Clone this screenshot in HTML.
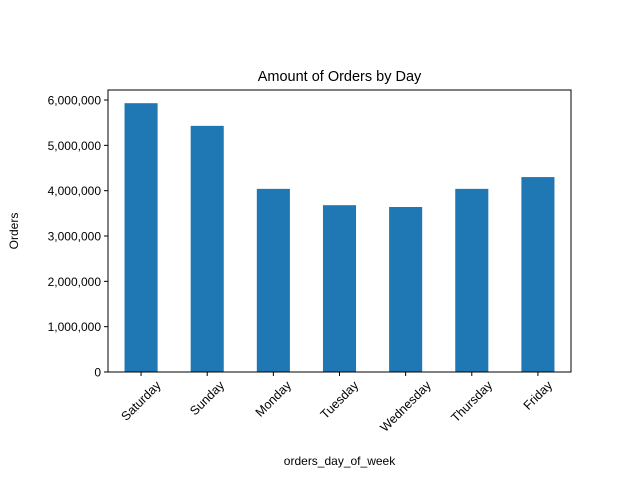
<!DOCTYPE html>
<html><head><meta charset="utf-8"><style>body{margin:0;background:#fff}svg{display:block;font-family:"Liberation Sans","DejaVu Sans",sans-serif}</style></head>
<body>
<svg id="chart" width="640" height="480">
<text x="339.5" y="81" font-size="14.5" text-anchor="middle">Amount of Orders by Day</text>
<text x="339.5" y="465" font-size="12" text-anchor="middle">orders_day_of_week</text>
<text transform="translate(18,231) rotate(-90)" font-size="12" text-anchor="middle">Orders</text>
<g id="bars"></g><g id="axes"></g>
</svg>
<script>
const categories=["Saturday","Sunday","Monday","Tuesday","Wednesday","Thursday","Friday"];
const orders=[5930000,5430000,4040000,3680000,3640000,4040000,4300000];
const yTicks=[0,1000000,2000000,3000000,4000000,5000000,6000000];
const L=108,R=571,T=90,B=372;
const y=v=>B-v/1000000*45.33;
const step=(R-L)/categories.length;
const x=i=>L+step*(i+0.5);
const NS="http://www.w3.org/2000/svg";
const bars=document.getElementById('bars'),axes=document.getElementById('axes');
function mk(tag,attrs,parent,text){const e=document.createElementNS(NS,tag);for(const k in attrs)e.setAttribute(k,attrs[k]);if(text!==undefined)e.textContent=text;parent.appendChild(e);return e;}
orders.forEach((v,i)=>{
 const r=mk('rect',{x:x(i)-step*0.25,y:y(v),width:step*0.5,height:B-y(v),fill:'#1f77b4'},bars);
 
 
 mk('line',{x1:x(i),x2:x(i),y1:B,y2:B+4,stroke:'#000'},axes);
 const t=mk('text',{'font-size':'12.5','text-anchor':'middle','dominant-baseline':'central'},axes,categories[i]);
 
 
 const w=t.getComputedTextLength();
 const cy=B+7+(w+12)*0.7071/2;
 t.setAttribute('transform',`translate(${x(i)},${cy}) rotate(-45)`);
});
yTicks.forEach(v=>{
 mk('line',{x1:L-4,x2:L,y1:y(v),y2:y(v),stroke:'#000'},axes);
 const t=mk('text',{x:L-7,y:y(v)+4.5,'font-size':'12','text-anchor':'end'},axes,v.toLocaleString('en-US'));
 
 
});
const f=mk('rect',{x:L,y:T,width:R-L,height:B-T,fill:'none',stroke:'#000','stroke-width':1},axes);


</script>
</body></html>
